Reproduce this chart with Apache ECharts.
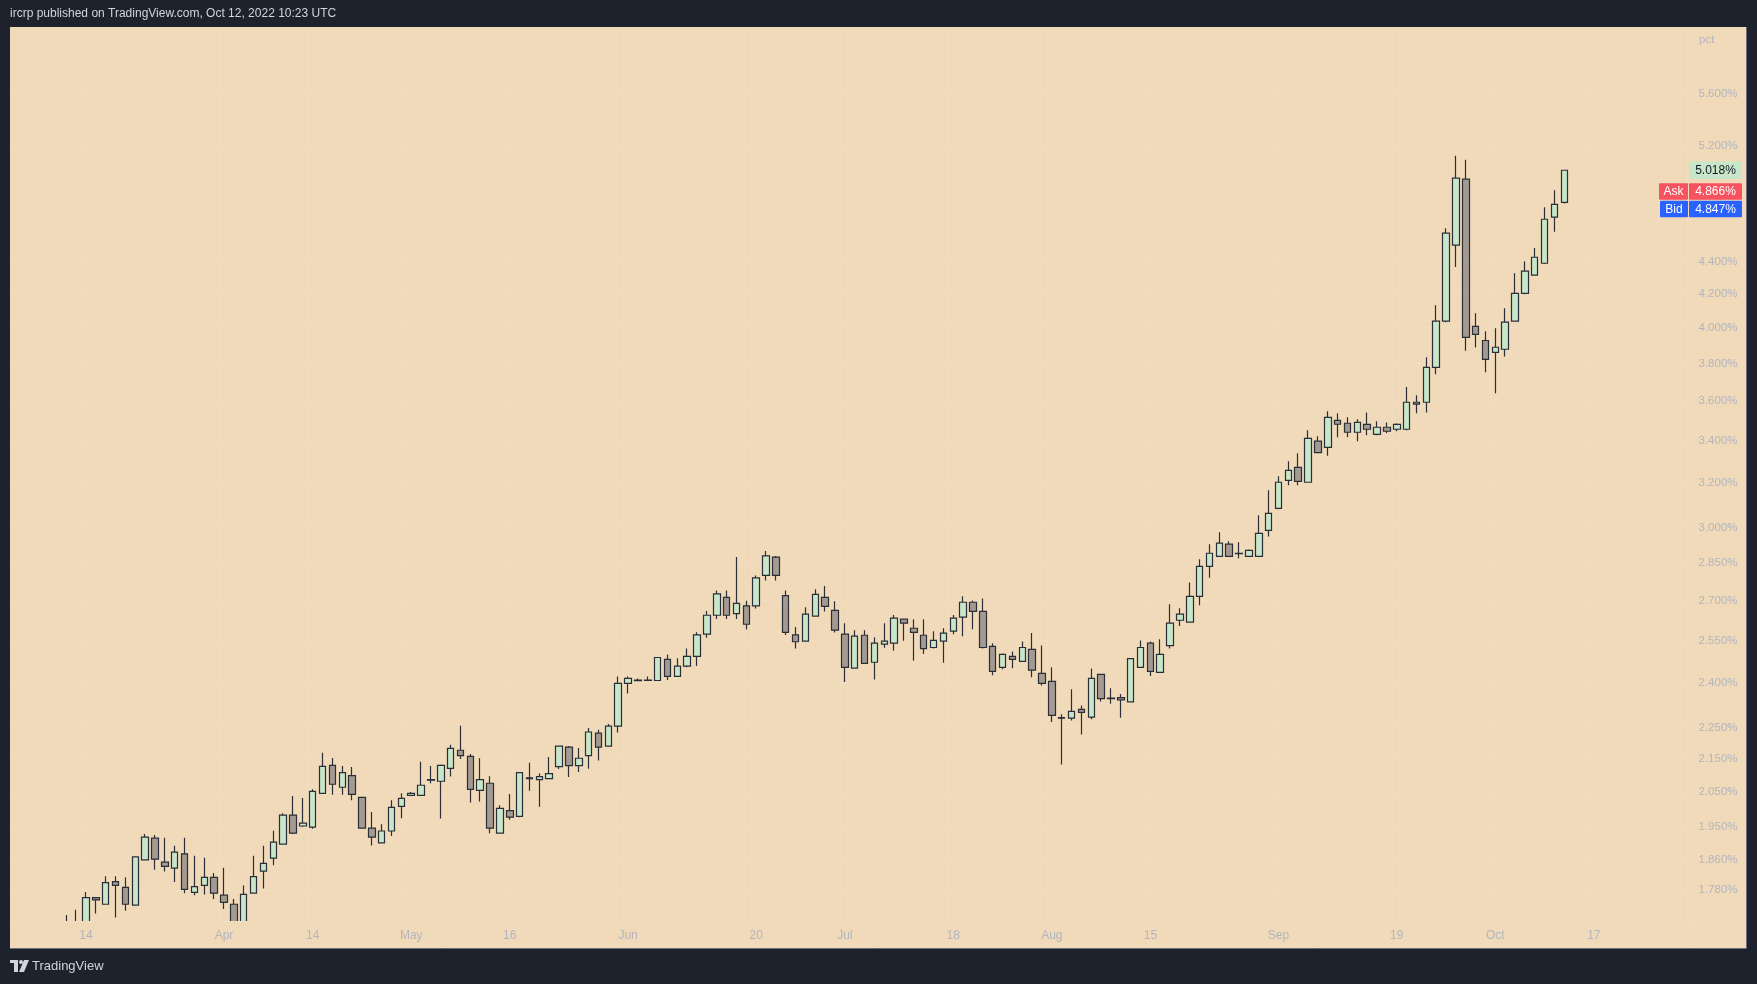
<!DOCTYPE html>
<html>
<head>
<meta charset="utf-8">
<script src="https://cdn.jsdelivr.net/npm/echarts@6.0.0/dist/echarts.min.js"></script>
<style>
html,body{margin:0;padding:0;background:#1e222d;}
#c{width:1757px;height:984px;}
</style>
</head>
<body>
<div id="c"></div>
<script>
// ---- categories (trading days) ----
const AXIS_START = '2022-03-03';
const AXIS_SLOTS = 170;
const HOLIDAYS = ['2022-04-15', '2022-04-18'];
const FIRST_CANDLE = '2022-03-10';

// ---- OHLC values (pct) ----
const OPEN = [
1.670,1.685,1.675,1.761,1.744,1.802,1.787,1.742,1.859,1.918,
1.853,1.837,1.875,1.774,1.792,1.813,1.767,1.744,1.695,1.772,
1.829,1.864,1.902,1.983,1.952,1.949,2.046,2.130,2.064,2.099,
2.034,1.946,1.905,1.938,2.008,2.040,2.040,2.087,2.082,2.121,
2.177,2.158,2.055,2.076,1.932,1.996,1.979,2.092,2.087,2.090,
2.126,2.187,2.129,2.160,2.231,2.190,2.254,2.397,2.406,2.407,
2.407,2.481,2.421,2.457,2.492,2.573,2.644,2.713,2.650,2.680,
2.680,2.800,2.875,2.720,2.570,2.547,2.641,2.713,2.663,2.573,
2.450,2.569,2.471,2.536,2.540,2.629,2.595,2.569,2.524,2.547,
2.584,2.637,2.694,2.659,2.528,2.453,2.492,2.474,2.517,2.432,
2.404,2.282,2.280,2.309,2.283,2.428,2.347,2.348,2.334,2.453,
2.540,2.435,2.531,2.625,2.618,2.717,2.837,2.878,2.929,2.891,
2.878,2.878,2.988,3.084,3.211,3.271,3.202,3.397,3.367,3.500,
3.486,3.441,3.480,3.431,3.466,3.456,3.456,3.593,3.593,3.778,
4.038,4.505,4.954,4.008,3.927,3.861,3.878,4.038,4.203,4.315,
4.389,4.690,4.791
];
const HIGH = [
1.717,1.730,1.775,1.762,1.816,1.816,1.813,1.869,1.930,1.927,
1.919,1.897,1.919,1.870,1.865,1.824,1.838,1.757,1.792,1.870,
1.897,1.939,1.988,2.038,2.032,2.058,2.169,2.153,2.128,2.125,
2.036,1.992,1.957,2.026,2.046,2.050,2.141,2.128,2.133,2.194,
2.255,2.165,2.152,2.097,2.011,2.044,2.110,2.138,2.105,2.156,
2.192,2.190,2.184,2.248,2.242,2.261,2.421,2.421,2.414,2.421,
2.490,2.499,2.485,2.520,2.580,2.660,2.740,2.740,2.875,2.700,
2.800,2.900,2.880,2.740,2.600,2.675,2.745,2.758,2.698,2.614,
2.588,2.588,2.562,2.614,2.645,2.630,2.629,2.629,2.584,2.595,
2.645,2.717,2.701,2.709,2.540,2.502,2.510,2.546,2.577,2.531,
2.453,2.293,2.377,2.322,2.449,2.430,2.380,2.361,2.486,2.550,
2.546,2.554,2.686,2.671,2.772,2.866,2.929,2.980,2.941,2.937,
2.907,3.054,3.165,3.230,3.300,3.339,3.451,3.421,3.547,3.536,
3.516,3.506,3.540,3.496,3.490,3.486,3.673,3.629,3.833,4.132,
4.616,5.123,5.094,4.084,3.979,3.997,4.114,4.327,4.401,4.487,
4.757,4.876,5.020
];
const LOW = [
1.655,1.660,1.670,1.721,1.744,1.711,1.728,1.740,1.858,1.833,
1.828,1.801,1.772,1.767,1.769,1.757,1.732,1.680,1.690,1.771,
1.784,1.845,1.900,1.930,1.949,1.944,2.045,2.042,2.042,2.026,
1.944,1.898,1.904,1.924,1.974,2.039,2.039,2.076,1.973,2.096,
2.150,2.019,2.022,1.932,1.931,1.970,1.977,2.054,2.007,2.089,
2.119,2.095,2.110,2.120,2.145,2.189,2.233,2.362,2.405,2.406,
2.406,2.409,2.420,2.453,2.458,2.560,2.630,2.630,2.630,2.590,
2.670,2.780,2.780,2.570,2.520,2.546,2.640,2.658,2.579,2.402,
2.449,2.466,2.410,2.523,2.512,2.549,2.476,2.501,2.520,2.469,
2.573,2.565,2.591,2.520,2.425,2.446,2.450,2.473,2.418,2.390,
2.267,2.133,2.272,2.227,2.276,2.335,2.328,2.281,2.333,2.452,
2.423,2.434,2.520,2.603,2.617,2.682,2.791,2.877,2.877,2.870,
2.877,2.877,2.962,3.080,3.188,3.188,3.200,3.340,3.327,3.416,
3.416,3.397,3.426,3.426,3.436,3.446,3.451,3.536,3.540,3.741,
4.032,4.366,3.869,3.887,3.752,3.640,3.837,4.035,4.197,4.310,
4.385,4.593,4.784
];
const CLOSE = [
1.685,1.675,1.761,1.755,1.799,1.792,1.744,1.867,1.921,1.861,
1.842,1.880,1.782,1.789,1.813,1.772,1.749,1.690,1.769,1.815,
1.850,1.907,1.983,1.932,1.960,2.052,2.127,2.073,2.108,2.043,
1.946,1.921,1.938,2.005,2.031,2.046,2.070,2.085,2.130,2.183,
2.160,2.058,2.087,1.946,2.002,1.977,2.108,2.090,2.096,2.105,
2.190,2.129,2.152,2.235,2.187,2.254,2.397,2.414,2.408,2.408,
2.488,2.421,2.457,2.492,2.570,2.644,2.727,2.644,2.690,2.610,
2.790,2.880,2.800,2.580,2.545,2.648,2.725,2.678,2.588,2.453,
2.566,2.467,2.540,2.547,2.633,2.614,2.580,2.520,2.550,2.577,
2.633,2.694,2.659,2.524,2.439,2.499,2.481,2.524,2.443,2.397,
2.289,2.280,2.302,2.299,2.414,2.345,2.345,2.341,2.484,2.524,
2.439,2.499,2.614,2.648,2.717,2.837,2.891,2.933,2.878,2.889,
2.903,2.975,3.062,3.202,3.257,3.206,3.411,3.342,3.516,3.481,
3.441,3.490,3.456,3.466,3.446,3.480,3.593,3.583,3.778,4.038,
4.583,4.961,3.945,3.962,3.822,3.889,4.032,4.203,4.339,4.427,
4.676,4.777,5.018
];

// ---- axis ticks / labels ----
const Y_TICKS = [1.78,1.86,1.95,2.05,2.15,2.25,2.40,2.55,2.70,2.85,3.00,3.20,3.40,3.60,3.80,4.00,4.20,4.40,5.20,5.60];
const Y_MIN = 1.70248;
const Y_MAX = 6.1673;
const X_LABELS = [
  ['2022-03-14','14'],['2022-04-01','Apr'],['2022-04-14','14'],['2022-05-02','May'],
  ['2022-05-16','16'],['2022-06-01','Jun'],['2022-06-20','20'],['2022-07-01','Jul'],
  ['2022-07-18','18'],['2022-08-01','Aug'],['2022-08-15','15'],['2022-09-01','Sep'],
  ['2022-09-19','19'],['2022-10-03','Oct'],['2022-10-17','17']
];
const ASK = 4.866;
const BID = 4.847;
const HEADER = 'ircrp published on TradingView.com, Oct 12, 2022 10:23 UTC';

// ---- build ----
function buildDates() {
  const out = [];
  const d = new Date(AXIS_START + 'T00:00:00Z');
  while (out.length < AXIS_SLOTS) {
    const dow = d.getUTCDay();
    const s = d.toISOString().slice(0, 10);
    if (dow !== 0 && dow !== 6 && HOLIDAYS.indexOf(s) < 0) out.push(s);
    d.setUTCDate(d.getUTCDate() + 1);
  }
  return out;
}
const DATES = buildDates();
const offset = DATES.indexOf(FIRST_CANDLE);
const labelMap = {};
X_LABELS.forEach(p => { labelMap[p[0]] = p[1]; });
const seriesData = DATES.map((d, k) => {
  const j = k - offset;
  if (j < 0 || j >= OPEN.length) return ['-', '-', '-', '-'];
  return [Math.log(OPEN[j]), Math.log(CLOSE[j]), Math.log(LOW[j]), Math.log(HIGH[j])];
});
const yTickLogs = Y_TICKS.map(v => Math.log(v));

const BG = '#F0DAB9';
const GRIDC = '#f1ddc0';
const LABELC = '#b2b5be';
const FONT = 'Liberation Sans, Arial, sans-serif';

const chart = echarts.init(document.getElementById('c'), null, {renderer: 'canvas'});
const GRID = {left: 12.1, top: 27, width: 1675.4, height: 894};

const option = {
  backgroundColor: '#1e222d',
  animation: false,
  grid: GRID,
  xAxis: [{
    // label axis, drawn above the mask
    type: 'category',
    z: 10,
    data: DATES,
    boundaryGap: true,
    axisLine: {show: false},
    axisTick: {show: false},
    axisLabel: {
      interval: (i, v) => labelMap[v] !== undefined,
      formatter: v => labelMap[v] || '',
      color: LABELC, fontSize: 12, fontFamily: FONT, margin: 9
    },
    splitLine: {show: false}
  }, {
    // grid-line axis, drawn beneath the candles
    type: 'category',
    z: 0,
    position: 'bottom',
    data: DATES,
    boundaryGap: true,
    axisLine: {show: false},
    axisTick: {show: false},
    axisLabel: {show: false},
    splitLine: {show: true, interval: (i, v) => labelMap[v] !== undefined, lineStyle: {color: GRIDC, width: 1}}
  }],
  yAxis: [{
    type: 'value',
    position: 'right',
    z: 10,
    min: Math.log(Y_MIN),
    max: Math.log(Y_MAX),
    axisLine: {show: false},
    axisTick: {show: false, customValues: yTickLogs},
    axisLabel: {
      customValues: yTickLogs,
      formatter: v => Math.exp(v).toFixed(3) + '%',
      color: LABELC, fontSize: 11.5, fontFamily: FONT, margin: 11
    },
    splitLine: {show: false}
  }, {
    type: 'value',
    position: 'right',
    z: 0,
    min: Math.log(Y_MIN),
    max: Math.log(Y_MAX),
    axisLine: {show: false},
    axisTick: {show: false, customValues: yTickLogs},
    axisLabel: {show: false, customValues: yTickLogs},
    splitLine: {show: true, lineStyle: {color: GRIDC, width: 1}}
  }],
  series: [{
    type: 'candlestick',
    xAxisIndex: 0,
    yAxisIndex: 0,
    data: seriesData,
    clip: true,
    barWidth: 7,
    itemStyle: {
      color: '#c8e6c9', color0: '#a39b92',
      borderColor: '#2a2e39', borderColor0: '#2a2e39', borderWidth: 1.2
    },
    z: 2
  }],
  graphic: [
    {type: 'rect', z: -10, silent: true, shape: {x: 10, y: 27, width: 1736, height: 921}, style: {fill: BG}},
    // mask for the time-scale strip so candles are cut at the pane bottom
    {type: 'rect', z: 5, silent: true, shape: {x: 10, y: 921, width: 1736, height: 27}, style: {fill: BG}},
    {type: 'line', z: 6, silent: true, shape: {x1: 10, y1: 921.5, x2: 1746, y2: 921.5}, style: {stroke: GRIDC, lineWidth: 1}},
    {type: 'line', z: 6, silent: true, shape: {x1: 1690.5, y1: 27, x2: 1690.5, y2: 948}, style: {stroke: GRIDC, lineWidth: 1}},
    {type: 'line', z: 6, silent: true, shape: {x1: 1746.5, y1: 27, x2: 1746.5, y2: 948.5}, style: {stroke: '#6b6e78', lineWidth: 1}},
    {type: 'line', z: 6, silent: true, shape: {x1: 10, y1: 948.5, x2: 1746.5, y2: 948.5}, style: {stroke: '#6b6e78', lineWidth: 1}},
    {type: 'text', silent: true, x: 10, y: 14, style: {text: HEADER, fill: '#d1d4dc', font: '12px ' + FONT, textVerticalAlign: 'middle'}},
    {type: 'text', silent: true, z: 11, x: 1699, y: 40, style: {text: 'pct', fill: LABELC, font: '11.5px ' + FONT, textVerticalAlign: 'middle'}},
    // TradingView logo approximation + wordmark
    {type: 'rect', silent: true, shape: {x: 10, y: 960, width: 8, height: 3}, style: {fill: '#d1d4dc'}},
    {type: 'rect', silent: true, shape: {x: 14, y: 960, width: 4, height: 12}, style: {fill: '#d1d4dc'}},
    {type: 'circle', silent: true, shape: {cx: 21, cy: 962, r: 2}, style: {fill: '#d1d4dc'}},
    {type: 'polygon', silent: true, shape: {points: [[24, 960], [29, 960], [24, 972], [19, 972]]}, style: {fill: '#d1d4dc'}},
    {type: 'text', silent: true, x: 32, y: 966, style: {text: 'TradingView', fill: '#d1d4dc', font: '13px ' + FONT, textVerticalAlign: 'middle'}}
  ]
};
chart.setOption(option);

// price markers on the price scale
const yLast = chart.convertToPixel({yAxisIndex: 0}, Math.log(CLOSE[CLOSE.length - 1]));
const yAsk = chart.convertToPixel({yAxisIndex: 0}, Math.log(ASK));
const yBid0 = chart.convertToPixel({yAxisIndex: 0}, Math.log(BID));
const BH = 16.5;
const askTop = yAsk - BH / 2;
const bidTop = Math.max(yBid0 - BH / 2, askTop + BH + 1);
function box(x, y, w, h, fill, text, color) {
  return [
    {type: 'rect', silent: true, z: 20, shape: {x: x, y: y, width: w, height: h, r: 1}, style: {fill: fill}},
    {type: 'text', silent: true, z: 21, x: x + w / 2, y: y + h / 2 + 0.5,
     style: {text: text, fill: color, font: '12px ' + FONT, align: 'center', verticalAlign: 'middle'}}
  ];
}
const extra = [].concat(
  box(1689, yLast - 8.8, 53, 17.6, '#c8e6c9', CLOSE[CLOSE.length - 1].toFixed(3) + '%', '#131722'),
  box(1659, askTop, 29, BH, '#f7525f', 'Ask', '#ffffff'),
  box(1689, askTop, 53, BH, '#f7525f', ASK.toFixed(3) + '%', '#ffffff'),
  box(1660, bidTop, 28, BH, '#2962ff', 'Bid', '#ffffff'),
  box(1689, bidTop, 53, BH, '#2962ff', BID.toFixed(3) + '%', '#ffffff')
);
chart.setOption({graphic: option.graphic.concat(extra)}, {replaceMerge: ['graphic']});
</script>
</body>
</html>
